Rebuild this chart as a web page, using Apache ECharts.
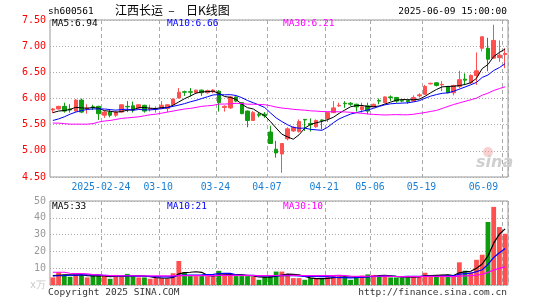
<!DOCTYPE html>
<html><head><meta charset="utf-8">
<script src="https://cdn.jsdelivr.net/npm/echarts@6/dist/echarts.min.js"></script>
<style>html,body{margin:0;padding:0;background:#fff}#c{width:545px;height:300px}</style>
</head><body><div id="c"></div>
<script>
// ---- data ----
const dates = [
 '2025-02-11','2025-02-12','2025-02-13','2025-02-14','2025-02-17','2025-02-18','2025-02-19','2025-02-20','2025-02-21','2025-02-24',
 '2025-02-25','2025-02-26','2025-02-27','2025-02-28','2025-03-03','2025-03-04','2025-03-05','2025-03-06','2025-03-07','2025-03-10',
 '2025-03-11','2025-03-12','2025-03-13','2025-03-14','2025-03-17','2025-03-18','2025-03-19','2025-03-20','2025-03-21','2025-03-24',
 '2025-03-25','2025-03-26','2025-03-27','2025-03-28','2025-03-31','2025-04-01','2025-04-02','2025-04-03','2025-04-07','2025-04-08',
 '2025-04-09','2025-04-10','2025-04-11','2025-04-14','2025-04-15','2025-04-16','2025-04-17','2025-04-18','2025-04-21','2025-04-22',
 '2025-04-23','2025-04-24','2025-04-25','2025-04-28','2025-04-29','2025-04-30','2025-05-06','2025-05-07','2025-05-08','2025-05-09',
 '2025-05-12','2025-05-13','2025-05-14','2025-05-15','2025-05-16','2025-05-19','2025-05-20','2025-05-21','2025-05-22','2025-05-23',
 '2025-05-26','2025-05-27','2025-05-28','2025-05-29','2025-05-30','2025-06-03','2025-06-04','2025-06-05','2025-06-06','2025-06-09'];
const opens = [
 5.78,5.80,5.85,5.80,5.76,5.97,5.80,5.84,5.85,5.68,
 5.74,5.68,5.74,5.85,5.86,5.82,5.87,5.80,5.80,5.81,
 5.81,5.88,6.01,6.13,6.13,6.11,6.16,6.11,6.13,6.14,
 5.83,5.82,6.03,5.92,5.76,5.58,5.70,5.70,5.36,5.03,
 4.94,5.23,5.38,5.37,5.60,5.52,5.46,5.59,5.62,5.73,
 5.86,5.91,5.91,5.89,5.79,5.86,5.84,5.96,5.92,6.03,
 6.02,5.96,5.96,5.95,6.05,6.08,6.28,6.30,6.26,6.23,
 6.11,6.23,6.37,6.30,6.44,6.96,6.96,6.77,6.78,6.84];
const closes = [
 5.80,5.85,5.76,5.78,5.97,5.74,5.82,5.83,5.71,5.74,
 5.68,5.74,5.88,5.84,5.78,5.88,5.76,5.81,5.81,5.87,
 5.88,5.99,6.12,6.12,6.12,6.16,6.11,6.15,6.16,5.92,
 5.85,6.03,5.95,5.71,5.58,5.73,5.68,5.67,5.14,4.96,
 5.14,5.42,5.45,5.56,5.59,5.50,5.58,5.58,5.73,5.82,
 5.87,5.90,5.89,5.84,5.84,5.76,5.89,5.95,6.03,6.02,
 5.95,5.95,5.94,6.02,6.07,6.23,6.29,6.25,6.27,6.11,
 6.25,6.36,6.35,6.44,6.53,7.18,6.75,7.11,6.83,6.86];
const lows = [
 5.72,5.79,5.73,5.73,5.75,5.72,5.71,5.78,5.59,5.63,
 5.64,5.65,5.73,5.74,5.73,5.80,5.73,5.75,5.73,5.80,
 5.74,5.86,6.00,6.05,6.04,6.10,6.05,6.09,6.10,5.75,
 5.75,5.80,5.93,5.70,5.45,5.57,5.64,5.63,5.13,4.87,
 4.58,5.20,5.36,5.35,5.38,5.37,5.44,5.41,5.55,5.72,
 5.84,5.82,5.86,5.75,5.73,5.70,5.83,5.89,5.91,5.95,
 5.92,5.93,5.90,5.94,6.02,6.07,6.27,6.23,6.14,6.10,
 6.06,6.20,6.26,6.28,6.26,6.90,6.52,6.76,6.70,6.58];
const highs = [
 5.82,5.86,5.92,5.89,5.99,6.00,5.89,5.88,5.86,5.77,
 5.79,5.76,5.89,5.95,5.94,5.89,5.88,5.88,5.85,5.95,
 5.89,6.00,6.20,6.15,6.20,6.17,6.17,6.17,6.18,6.16,
 5.87,6.05,6.04,5.93,5.77,5.76,5.73,5.74,5.48,5.19,
 5.15,5.45,5.47,5.60,5.61,5.62,5.60,5.60,5.74,5.95,
 5.92,5.95,5.93,5.90,5.92,5.92,5.90,6.00,6.04,6.06,
 6.03,5.97,5.97,6.06,6.10,6.26,6.30,6.31,6.33,6.24,
 6.26,6.53,6.48,6.46,6.88,7.18,7.16,7.41,7.11,6.96];
const volumes = [
 4.5,7.6,6.0,4.9,6.4,6.0,4.5,5.6,5.6,5.6,
 3.7,6.0,5.3,6.6,5.3,4.5,4.5,3.7,4.1,4.1,
 3.7,7.0,14.3,7.6,5.3,5.3,5.3,5.3,5.0,8.4,
 6.3,6.0,5.3,5.3,5.3,4.9,3.1,5.0,5.3,8.0,
 8.0,6.0,4.1,4.1,3.1,4.1,3.7,3.7,4.7,5.6,
 5.3,5.1,3.1,5.1,5.6,6.3,6.0,5.1,5.7,4.5,
 4.5,4.5,4.5,5.3,5.3,7.3,5.3,5.3,6.1,6.1,
 5.3,13.5,8.5,7.5,15.0,18.0,37.5,46.5,34.5,30.5];
// moving-average values for the first days (history before the window)
const ma5Lead  = [5.73,5.76,5.77,5.79];
const ma10Lead = [5.58,5.61,5.65,5.70,5.74,5.77,5.79,5.80,5.80];
const ma30Lead = [5.53,5.53,5.52,5.51,5.51,5.51,5.51,5.52,5.55,5.57,5.58,5.60,5.62,5.63,5.64,5.65,5.67,5.69,5.70,5.72,5.74,5.76,5.78,5.80,5.81,5.83,5.85,5.86,5.87];
const vma5Lead  = [5.6,5.8,6.0,6.0];
const vma10Lead = [5.4,5.5,5.6,5.8,5.9,6.0,6.0,6.0,6.0];
const vma30Lead = [7.6,7.6,7.6,7.0,6.8,6.8,6.6,6.2,6.0,5.8,5.6,5.6,5.5,5.5,5.5,5.4,5.4,5.4,5.4,5.4,5.4,5.5,5.6,5.6,5.6,5.6,5.6,5.6,5.6];
const tickDates  = ['2025-02-24','2025-03-10','2025-03-24','2025-04-07','2025-04-21','2025-05-06','2025-05-19','2025-06-09'];
const tickLabels = ['2025-02-24','03-10','03-24','04-07','04-21','05-06','05-19','06-09'];
const priceLegend = ['MA5:6.94','MA10:6.66','MA30:6.21'];
const volLegend   = ['MA5:33','MA10:21','MA30:10'];

function movingAvg(vals, n, lead) {
  return vals.map((v, i) => {
    if (i < n - 1) return lead[i];
    let s = 0; for (let k = i - n + 1; k <= i; k++) s += vals[k];
    return +(s / n).toFixed(3);
  });
}
const RED = '#ff5050', GREEN = '#0f9d0f';
const MONO = 'DejaVu Sans Mono';
const tickSet = new Set(tickDates);
const tickFn = (idx, val) => tickSet.has(val);
const kData = dates.map((d, i) => [opens[i], closes[i], lows[i], highs[i]]);
const up = dates.map((d, i) => closes[i] >= opens[i]);

const vSplit = {show: true, interval: tickFn, lineStyle: {color: '#aaa', type: [4, 3], width: 1}};
const hSplit = {show: true, lineStyle: {color: '#aaa', type: [1, 2], width: 1}};
const lineS = (name, data, color, xi, w) => ({
  type: 'line', name, data, xAxisIndex: xi, yAxisIndex: xi, symbol: 'none', silent: true,
  lineStyle: {color, width: w}, itemStyle: {color}, z: 5
});
function txt(x, y, text, color, font, align) {
  return {type: 'text', x, y, silent: true, z: 100,
    style: {text, fill: color, font, align: align || 'left', verticalAlign: 'middle'}};
}
const chart = echarts.init(document.getElementById('c'), null, {renderer: 'canvas'});
chart.setOption({
  animation: false,
  backgroundColor: '#fff',
  grid: [
    {left: 50, right: 37, top: 20, height: 157, show: true, borderColor: '#999', borderWidth: 1, backgroundColor: 'transparent'},
    {left: 50, right: 37, top: 201, height: 84, show: true, borderColor: '#999', borderWidth: 1, backgroundColor: 'transparent'}
  ],
  xAxis: [
    {type: 'category', gridIndex: 0, data: dates, boundaryGap: true,
     axisLine: {show: false}, axisTick: {show: false},
     axisLabel: {interval: tickFn, color: '#1a7fd4', fontFamily: MONO, fontSize: 9.8, margin: 5,
       padding: [0, 7, 0, 0], alignMaxLabel: 'right',
       formatter: v => tickLabels[tickDates.indexOf(v)]},
     splitLine: vSplit},
    {type: 'category', gridIndex: 1, data: dates, boundaryGap: true,
     axisLine: {show: false}, axisTick: {show: false}, axisLabel: {show: false},
     splitLine: vSplit}
  ],
  yAxis: [
    {type: 'value', gridIndex: 0, min: 4.5, max: 7.5, interval: 0.5,
     axisLine: {show: false}, axisTick: {show: false},
     axisLabel: {color: '#ff0000', fontFamily: MONO, fontSize: 10, margin: 4, formatter: v => v.toFixed(2)},
     splitLine: hSplit},
    {type: 'value', gridIndex: 1, min: 0, max: 50, interval: 10,
     axisLine: {show: false}, axisTick: {show: false},
     axisLabel: {color: '#999', fontFamily: MONO, fontSize: 10, margin: 4,
       formatter: v => v === 0 ? '{u|x万}' : String(v),
       rich: {u: {color: '#c8c8c8', fontFamily: MONO, fontSize: 10}}},
     splitLine: hSplit}
  ],
  series: [
    {type: 'candlestick', data: kData, xAxisIndex: 0, yAxisIndex: 0, barWidth: 4, silent: true,
     itemStyle: {color: RED, color0: GREEN, borderColor: RED, borderColor0: GREEN, borderWidth: 1}},
    lineS('MA5', movingAvg(closes, 5, ma5Lead), '#000000', 0, 1),
    lineS('MA10', movingAvg(closes, 10, ma10Lead), '#0000ff', 0, 1),
    lineS('MA30', movingAvg(closes, 30, ma30Lead), '#ff00ff', 0, 1),
    {type: 'bar', data: volumes.map((v, i) => ({value: v, itemStyle: {color: up[i] ? RED : GREEN}})),
     xAxisIndex: 1, yAxisIndex: 1, barWidth: '84%', silent: true},
    lineS('VMA5', movingAvg(volumes, 5, vma5Lead), '#000000', 1, 1.2),
    lineS('VMA10', movingAvg(volumes, 10, vma10Lead), '#0000ff', 1, 1.2),
    lineS('VMA30', movingAvg(volumes, 30, vma30Lead), '#ff00ff', 1, 1.2)
  ],
  graphic: [
    txt(48, 11.5, 'sh600561', '#000', '9.5px ' + MONO),
    txt(115, 10, '江西长运', '#000', '12px "Noto Sans CJK SC"'),
    txt(171.5, 10, '–', '#000', '12px "Noto Sans CJK SC"', 'center'),
    txt(186, 10, '日K线图', '#000', '12px "Noto Sans CJK SC"'),
    txt(507, 11.5, '2025-06-09 15:00:00', '#000', '9.5px ' + MONO, 'right'),
    txt(52, 24, priceLegend[0], '#000', '9.5px ' + MONO),
    txt(167, 24, priceLegend[1], '#0000ff', '9.5px ' + MONO),
    txt(283, 24, priceLegend[2], '#ff00ff', '9.5px ' + MONO),
    txt(52, 206.5, volLegend[0], '#000', '9.5px ' + MONO),
    txt(167, 206.5, volLegend[1], '#0000ff', '9.5px ' + MONO),
    txt(283, 206.5, volLegend[2], '#ff00ff', '9.5px ' + MONO),
    txt(48, 292.5, 'Copyright 2025 SINA.COM', '#333', '9.5px ' + MONO),
    txt(507, 292.5, 'http://finance.sina.com.cn', '#333', '9.5px ' + MONO, 'right'),
    {type: 'circle', shape: {cx: 488, cy: 152, r: 5}, silent: true, z: 1,
     style: {fill: 'rgba(240,150,150,0.45)', stroke: 'none'}},
    txt(476, 163, 'sina', '#cfcfcf', 'italic bold 16px "DejaVu Sans"')
  ]
});
</script></body></html>
